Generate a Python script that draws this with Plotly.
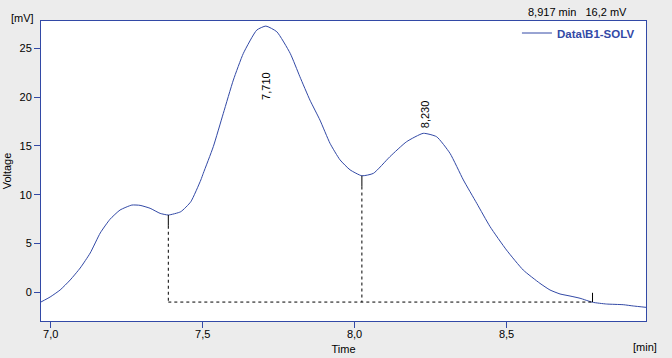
import plotly.graph_objects as go

# ---- data ----
time_min = [6.968, 6.998, 7.031, 7.064, 7.097, 7.130, 7.163, 7.195, 7.228, 7.267,
            7.294, 7.327, 7.360, 7.387, 7.428, 7.461, 7.494, 7.502, 7.535, 7.568,
            7.601, 7.634, 7.678, 7.708, 7.744, 7.788, 7.820, 7.853, 7.886, 7.919,
            7.952, 7.985, 8.024, 8.062, 8.116, 8.171, 8.226, 8.270, 8.314, 8.358,
            8.402, 8.446, 8.500, 8.555, 8.610, 8.643, 8.676, 8.709, 8.742, 8.783,
            8.829, 8.884, 8.917, 8.959]
voltage_mv = [-0.99, -0.48, 0.24, 1.26, 2.49, 4.03, 6.08, 7.48, 8.43, 8.94,
              8.91, 8.61, 8.09, 7.92, 8.26, 9.28, 11.51, 12.19, 14.92, 18.34,
              21.75, 24.49, 26.87, 27.28, 26.70, 24.49, 22.09, 19.70, 17.65, 15.27,
              13.57, 12.55, 11.94, 12.19, 13.89, 15.43, 16.29, 15.94, 14.24, 11.51,
              9.12, 6.72, 4.33, 2.28, 0.92, 0.24, -0.17, -0.38, -0.61, -1.02,
              -1.20, -1.27, -1.40, -1.54]

series_name = "Data\\B1-SOLV"

# peak labels
peak_times = [7.710, 8.230]
peak_labels = ["7,710", "8,230"]
peak_label_y = [21.2, 18.3]

# integration boundaries (start, valley, end) and baseline level
boundary_times = [7.387, 8.024, 8.783]
boundary_curve_y = [7.92, 11.94, -1.02]
baseline_y = -1.0

# axes
x_tickvals = [7.0, 7.5, 8.0, 8.5]
x_ticktext = ["7,0", "7,5", "8,0", "8,5"]
y_tickvals = [0, 5, 10, 15, 20, 25]
y_ticktext = ["0", "5", "10", "15", "20", "25"]
x_range = [6.968, 8.959]
y_range = [-2.94, 27.80]

cursor_text = "8,917 min\u00a0\u00a0 16,2 mV"

BLUE = "#3249a6"
FONT = "Liberation Sans"

fig = go.Figure()

fig.add_trace(go.Scatter(
    x=time_min, y=voltage_mv, mode="lines", name=series_name,
    line=dict(color=BLUE, width=1, shape="spline", smoothing=0.5),
    showlegend=True,
))

# baseline (dashed)
fig.add_trace(go.Scatter(
    x=[boundary_times[0], boundary_times[-1]], y=[baseline_y, baseline_y],
    mode="lines", line=dict(color="black", width=1, dash="3px,3px"),
    showlegend=False, hoverinfo="skip"))
# dashed drops at start and valley
for t, cy in zip(boundary_times[:2], boundary_curve_y[:2]):
    fig.add_trace(go.Scatter(
        x=[t, t], y=[cy - 1.1, baseline_y], mode="lines",
        line=dict(color="black", width=1, dash="3px,3px"),
        showlegend=False, hoverinfo="skip"))
    fig.add_trace(go.Scatter(
        x=[t, t], y=[cy, cy - 1.1], mode="lines",
        line=dict(color="black", width=1),
        showlegend=False, hoverinfo="skip"))
# end tick
fig.add_trace(go.Scatter(
    x=[boundary_times[2], boundary_times[2]], y=[baseline_y, baseline_y + 0.95],
    mode="lines", line=dict(color="black", width=1),
    showlegend=False, hoverinfo="skip"))

for t, lab, ly in zip(peak_times, peak_labels, peak_label_y):
    fig.add_annotation(x=t, y=ly, text=lab, textangle=-90, showarrow=False,
                       font=dict(family=FONT, size=11, color="black"),
                       xref="x", yref="y")

fig.add_annotation(x=0.972, y=1.031, xref="paper", yref="paper", text=cursor_text,
                   showarrow=False, xanchor="right", yanchor="middle",
                   font=dict(family=FONT, size=11, color="black"))
fig.add_annotation(x=-0.0298, y=1.01, xref="paper", yref="paper", text="[mV]",
                   showarrow=False, xanchor="center", yanchor="middle",
                   font=dict(family=FONT, size=11, color="black"))
fig.add_annotation(x=0.998, y=-0.087, xref="paper", yref="paper", text="[min]",
                   showarrow=False, xanchor="center", yanchor="middle",
                   font=dict(family=FONT, size=11, color="black"))

axis_common = dict(
    showline=True, linecolor=BLUE, linewidth=1, mirror=True,
    ticks="outside", ticklen=6, tickcolor=BLUE, tickwidth=1,
    showgrid=False, zeroline=False, automargin=False,
    tickfont=dict(family=FONT, size=11, color="black"),
)

fig.update_layout(
    width=672, height=358,
    margin=dict(l=41, r=26, t=21, b=37),
    paper_bgcolor="#ececec", plot_bgcolor="white",
    font=dict(family=FONT, size=11, color="black"),
    xaxis=dict(range=x_range, tickvals=x_tickvals, ticktext=x_ticktext,
               ticklabelstandoff=-3,
               title=dict(text="Time", standoff=6,
                          font=dict(family=FONT, size=11, color="black")),
               **axis_common),
    yaxis=dict(range=y_range, tickvals=y_tickvals, ticktext=y_ticktext,
               title=dict(text="Voltage", standoff=5,
                          font=dict(family=FONT, size=11, color="black")),
               **axis_common),
    legend=dict(x=0.99, y=0.96, xanchor="right", yanchor="middle",
                bgcolor="rgba(0,0,0,0)", borderwidth=0,
                font=dict(family=FONT, size=11.5, color=BLUE, weight="bold"),
                itemwidth=30),
    showlegend=True,
)

fig.write_html("out.html", config={"displayModeBar": False},
               post_script="document.body.style.margin='0';document.body.style.background='#ececec';")
